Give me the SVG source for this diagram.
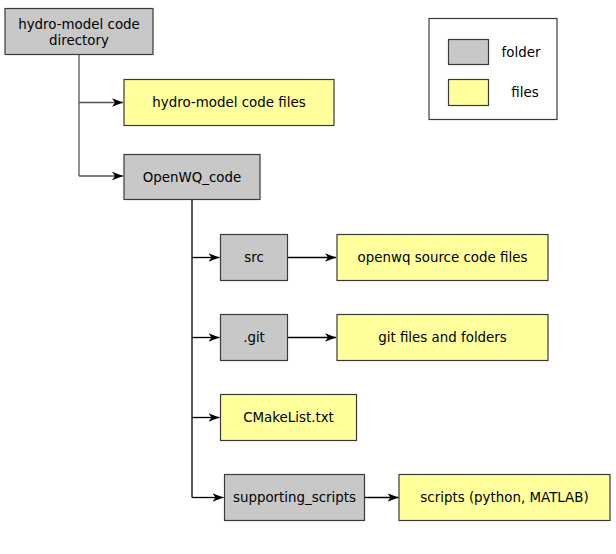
<svg xmlns="http://www.w3.org/2000/svg" width="616" height="554" viewBox="0 0 616 554">
<style>
.folder{fill:#c8c8c8;stroke:#3a3a3a;stroke-width:1.2}
.file{fill:#ffff9c;stroke:#3a3a3a;stroke-width:1.2}
.lbl{font-family:"DejaVu Sans","Liberation Sans",sans-serif;font-size:13.4px;fill:#000;text-anchor:middle;dominant-baseline:central}
.c{fill:none;stroke:#000;stroke-width:1.3}
.cg{fill:none;stroke:#555;stroke-width:1.3}
</style>
<defs>
<marker id="ah" markerWidth="12" markerHeight="10" refX="11" refY="5" orient="auto" markerUnits="userSpaceOnUse">
<path d="M0,0.8 L11,5 L0,9.2 L3,5 Z" fill="#000"/>
</marker>
</defs>
<rect width="616" height="554" fill="#fff"/>
<g id="connectors">
<path class="cg" d="M79,54 V176"/>
<path class="cg" d="M79,102.5 H123" marker-end="url(#ah)"/>
<path class="cg" d="M79,176 H123" marker-end="url(#ah)"/>
<path class="c" d="M192,199 V497.5"/>
<path class="c" d="M192,257.5 H219.5" marker-end="url(#ah)"/>
<path class="c" d="M192,337.5 H219.5" marker-end="url(#ah)"/>
<path class="c" d="M192,417.5 H219.5" marker-end="url(#ah)"/>
<path class="c" d="M192,497.5 H223.5" marker-end="url(#ah)"/>
<path class="c" d="M287,257.5 H336" marker-end="url(#ah)"/>
<path class="c" d="M287,337.5 H336" marker-end="url(#ah)"/>
<path class="c" d="M365,497.5 H398.5" marker-end="url(#ah)"/>
</g>
<g id="hydro-dir">
<rect class="folder" x="5" y="8.5" width="148" height="46"/>
<text class="lbl" x="79" y="24">hydro-model code</text>
<text class="lbl" x="79" y="40">directory</text>
</g>
<g id="hydro-files">
<rect class="file" x="124" y="79.5" width="210" height="46"/>
<text class="lbl" x="229" y="102.5">hydro-model code files</text>
</g>
<g id="openwq">
<rect class="folder" x="124" y="154.5" width="136" height="45"/>
<text class="lbl" x="192" y="177">OpenWQ_code</text>
</g>
<g id="src">
<rect class="folder" x="220.5" y="234.5" width="67" height="46"/>
<text class="lbl" x="254" y="257.5">src</text>
</g>
<g id="src-files">
<rect class="file" x="337" y="234.5" width="211" height="46"/>
<text class="lbl" x="442.5" y="257.5">openwq source code files</text>
</g>
<g id="git">
<rect class="folder" x="220.5" y="314.5" width="67" height="46"/>
<text class="lbl" x="254" y="337.5">.git</text>
</g>
<g id="git-files">
<rect class="file" x="337" y="314.5" width="211" height="46"/>
<text class="lbl" x="442.5" y="337.5">git files and folders</text>
</g>
<g id="cmake">
<rect class="file" x="220.5" y="394.5" width="136" height="46"/>
<text class="lbl" x="288.5" y="417.5">CMakeList.txt</text>
</g>
<g id="supporting">
<rect class="folder" x="224.5" y="474.5" width="140" height="46"/>
<text class="lbl" x="294.5" y="497.5">supporting_scripts</text>
</g>
<g id="scripts">
<rect class="file" x="399" y="474.5" width="211" height="46"/>
<text class="lbl" x="504.5" y="497.5">scripts (python, MATLAB)</text>
</g>
<g id="legend">
<rect x="429" y="18.5" width="128" height="101" fill="#fff" stroke="#3a3a3a" stroke-width="1.2"/>
<rect class="folder" x="448.5" y="39.5" width="40" height="25"/>
<rect class="file" x="448.5" y="79.5" width="40" height="26"/>
<text class="lbl" x="521" y="52">folder</text>
<text class="lbl" x="525" y="92">files</text>
</g>
</svg>
